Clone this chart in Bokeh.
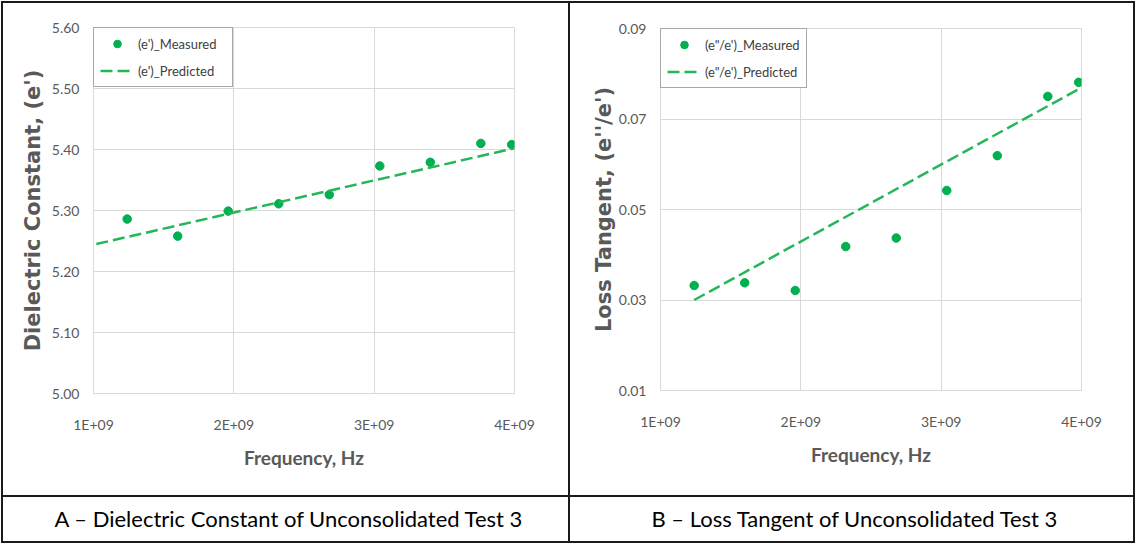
from bokeh.plotting import figure
from bokeh.layouts import row, column
from bokeh.models import FixedTicker, NumeralTickFormatter, Range1d, Spacer
from bokeh.embed import file_html
from bokeh.resources import INLINE

# ---- data -------------------------------------------------------------
freq_hz = [1.24e9, 1.60e9, 1.96e9, 2.32e9, 2.68e9, 3.04e9, 3.40e9, 3.76e9, 3.98e9]

eps_measured = [5.286, 5.258, 5.299, 5.311, 5.326, 5.373, 5.379, 5.410, 5.408]
eps_pred_freq = [1.02e9, 4.00e9]
eps_predicted = [5.245, 5.402]

tan_measured = [0.0332, 0.0338, 0.0321, 0.0418, 0.0437, 0.0542, 0.0619, 0.0750, 0.0781]
tan_pred_freq = [1.24e9, 3.98e9]
tan_predicted = [0.0300, 0.0766]

freq_ticks = [1e9, 2e9, 3e9, 4e9]
freq_tick_labels = ["1E+09", "2E+09", "3E+09", "4E+09"]
eps_ticks = [5.00, 5.10, 5.20, 5.30, 5.40, 5.50, 5.60]
tan_ticks = [0.01, 0.03, 0.05, 0.07, 0.09]

# ---- styling ----------------------------------------------------------
SANS = "Lato"
GREEN = "#00B050"
LINE_GREEN = "#25B65A"
GRAY = "#595959"
GRID = "#D9D9D9"
EDGE = "#1A1A1A"

CHART_H = 492
CAP_H = 44
LEFT_W = 565
RIGHT_W = 563


def chart(width, y_range, y_ticks, y_title, meas, pred_x, pred_y, labels, borders, title_gap):
    left, right, top, bottom = borders
    p = figure(width=width, height=CHART_H,
               x_range=Range1d(1e9, 4e9), y_range=Range1d(*y_range),
               output_backend="svg", toolbar_location=None,
               min_border_left=left, min_border_right=right,
               min_border_top=top, min_border_bottom=bottom)
    p.background_fill_color = "white"
    p.border_fill_color = "white"
    p.outline_line_color = GRID

    xt = FixedTicker(ticks=freq_ticks)
    yt = FixedTicker(ticks=y_ticks)
    p.xaxis.ticker = xt
    p.yaxis.ticker = yt
    p.xgrid.ticker = xt
    p.ygrid.ticker = yt
    p.grid.grid_line_color = GRID
    p.grid.grid_line_width = 1

    p.xaxis.major_label_overrides = dict(zip(freq_ticks, freq_tick_labels))
    p.yaxis.formatter = NumeralTickFormatter(format="0.00")

    p.axis.axis_line_color = None
    p.axis.major_tick_line_color = None
    p.axis.minor_tick_line_color = None
    p.axis.major_tick_out = 0
    p.axis.major_tick_in = 0
    p.axis.minor_tick_out = 0
    p.axis.major_label_text_color = GRAY
    p.axis.major_label_text_font = SANS
    p.axis.major_label_text_font_size = "14px"
    p.xaxis.major_label_standoff = 22
    p.yaxis.major_label_standoff = 14

    p.xaxis.axis_label = "Frequency, Hz"
    p.xaxis.axis_label_text_font = SANS
    p.xaxis.axis_label_text_font_size = "19px"
    p.xaxis.axis_label_text_font_style = "bold"
    p.xaxis.axis_label_text_color = GRAY
    p.xaxis.axis_label_standoff = 10

    p.yaxis.axis_label = y_title
    p.yaxis.axis_label_text_font = "DejaVu Sans"
    p.yaxis.axis_label_text_font_size = "21px"
    p.yaxis.axis_label_text_font_style = "bold"
    p.yaxis.axis_label_text_color = GRAY
    p.yaxis.axis_label_standoff = title_gap

    p.scatter(freq_hz, meas, size=8.5, color=GREEN, legend_label=labels[0])
    p.line(pred_x, pred_y, line_color=LINE_GREEN, line_width=2.5,
           line_dash="12 5", legend_label=labels[1])

    lg = p.legend[0]
    lg.location = "top_left"
    lg.margin = 0
    lg.padding = 6
    lg.spacing = 8
    lg.glyph_width = 34
    lg.glyph_height = 19
    lg.label_height = 19
    lg.label_standoff = 4
    lg.label_width = 88
    lg.label_text_font = SANS
    lg.label_text_font_size = "13px"
    lg.label_text_color = "#404040"
    lg.border_line_color = "#505050"
    lg.border_line_width = 1.5
    lg.background_fill_color = "white"
    lg.background_fill_alpha = 1
    return p


def caption(text, width, indent):
    # caption row: the text is the figure title; its frame lines up with the
    # chart frame above it, so the indent is measured from that frame's left edge
    c = figure(width=width, height=CAP_H, x_range=Range1d(0, 1), y_range=Range1d(0, 1),
               x_axis_type=None, y_axis_type=None, title=text, title_location="above",
               output_backend="svg", toolbar_location=None,
               min_border_left=0, min_border_right=0, min_border_top=34, min_border_bottom=0)
    c.grid.visible = False
    c.outline_line_color = None
    c.background_fill_color = "white"
    c.border_fill_color = "white"
    c.title.align = "left"
    c.title.offset = indent
    c.title.standoff = 0
    c.title.text_font = SANS
    c.title.text_font_size = "22px"
    c.title.text_font_style = "normal"
    c.title.text_color = "black"
    return c


def bar(w, h):
    return Spacer(width=w, height=h, styles={"background-color": EDGE})


p_eps = chart(LEFT_W, (5.0, 5.6), eps_ticks, "Dielectric Constant, (e')",
              eps_measured, eps_pred_freq, eps_predicted,
              ["(e')_Measured", "(e')_Predicted"], (90, 54, 24, 102), 4)
p_tan = chart(RIGHT_W, (0.01, 0.09), tan_ticks, "Loss Tangent, (e''/e')",
              tan_measured, tan_pred_freq, tan_predicted,
              ["(e\"/e')_Measured", "(e\"/e')_Predicted"], (90, 52, 25, 105), 0)

cap_a = caption("A \u2013 Dielectric Constant of Unconsolidated Test 3", LEFT_W, -39)
cap_b = caption("B \u2013 Loss Tangent of Unconsolidated Test 3", RIGHT_W, -9)

TOTAL_H = 2 + CHART_H + 2 + CAP_H + 2
left_col = column(bar(LEFT_W, 2), p_eps, bar(LEFT_W, 2), cap_a, bar(LEFT_W, 2), spacing=0)
right_col = column(bar(RIGHT_W, 2), p_tan, bar(RIGHT_W, 2), cap_b, bar(RIGHT_W, 2), spacing=0)

layout = column(
    Spacer(width=1135, height=1),
    row(Spacer(width=1, height=TOTAL_H), bar(2, TOTAL_H), left_col, bar(2, TOTAL_H),
        right_col, bar(2, TOTAL_H), spacing=0),
    spacing=0,
)

with open("out.html", "w") as f:
    f.write(file_html(layout, INLINE))
